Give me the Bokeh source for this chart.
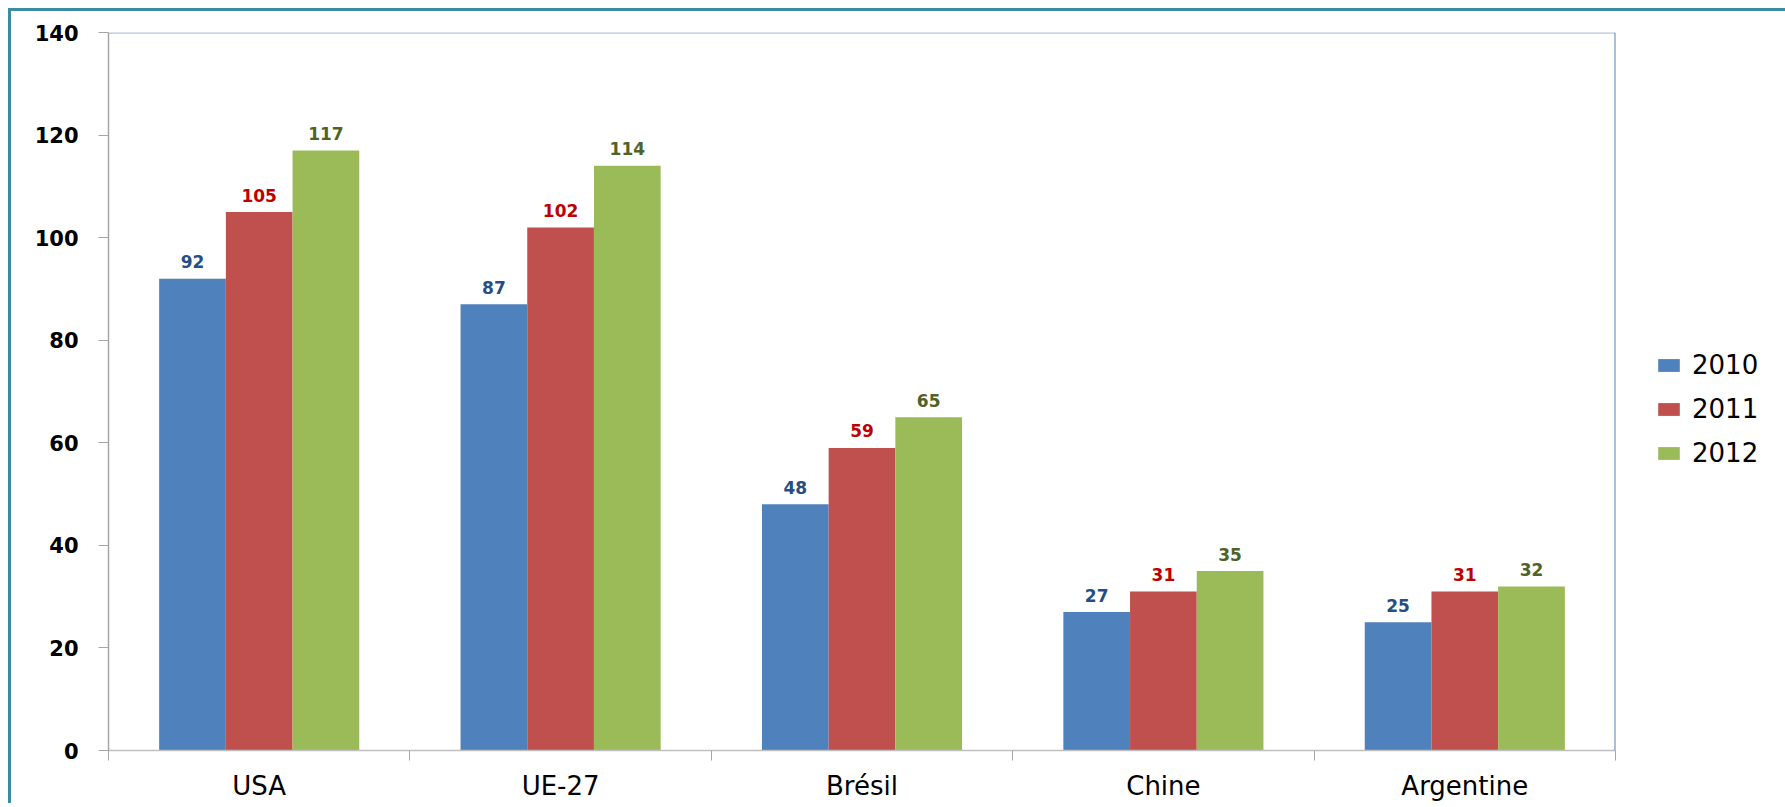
from bokeh.plotting import figure
from bokeh.models import Range1d, FixedTicker, Span, ColumnDataSource, Legend, LegendItem
from bokeh.core.properties import value
from bokeh.embed import file_html
from bokeh.resources import INLINE

categories = ["USA", "UE-27", "Brésil", "Chine", "Argentine"]
years = ["2010", "2011", "2012"]
v2010 = [92, 87, 48, 27, 25]
v2011 = [105, 102, 59, 31, 31]
v2012 = [117, 114, 65, 35, 32]
y_ticks = [0, 20, 40, 60, 80, 100, 120, 140]

series = [v2010, v2011, v2012]
bar_colors = ["#4f81bd", "#c0504d", "#9bbb59"]
label_colors = ["#254e85", "#c00000", "#4f6228"]
bar_w = 0.2213
offsets = [-bar_w, 0.0, bar_w]

p = figure(frame_width=1507, frame_height=718,
           x_range=Range1d(0, len(categories)), y_range=Range1d(0, 140),
           output_backend="svg", toolbar_location=None,
           min_border_left=97, min_border_right=150, min_border_top=21, min_border_bottom=40,
           background_fill_color="white", border_fill_color="white")
p.styles = {"border-top": "3px solid #3a8ba3", "border-left": "3px solid #3a8ba3",
            "margin-left": "8px", "margin-top": "8px"}
p.outline_line_color = None
p.xgrid.visible = False
p.ygrid.visible = False

items = []
for k in range(3):
    xs = [i + 0.5 + offsets[k] for i in range(len(categories))]
    src = ColumnDataSource(dict(x=xs, top=series[k], txt=[str(v) for v in series[k]]))
    r = p.vbar(x="x", top="top", width=bar_w, bottom=0, source=src,
               fill_color=bar_colors[k], line_color=None)
    items.append(LegendItem(label=years[k], renderers=[r]))
    p.text(x="x", y="top", text="txt", source=src, text_align="center",
           text_baseline="middle", y_offset=-17, text_font=value("DejaVu Sans"),
           text_font_style="bold", text_font_size="17px", text_color=label_colors[k])

# y axis
p.yaxis.ticker = FixedTicker(ticks=y_ticks, minor_ticks=[])
p.yaxis.major_label_text_font = "DejaVu Sans"
p.yaxis.major_label_text_font_style = "bold"
p.yaxis.major_label_text_font_size = "21px"
p.yaxis.major_label_text_color = "black"
p.yaxis.major_label_standoff = 20
p.yaxis.major_tick_out = 10
p.yaxis.major_tick_in = 0
p.yaxis.major_tick_line_color = "#a6a6a6"
p.yaxis.axis_line_color = "#a6a6a6"
p.yaxis.axis_line_width = 1.5

# x axis
centers = [i + 0.5 for i in range(len(categories))]
p.xaxis.ticker = FixedTicker(ticks=centers, minor_ticks=list(range(len(categories) + 1)))
p.xaxis.major_label_overrides = {c: n for c, n in zip(centers, categories)}
p.xaxis.major_tick_line_color = None
p.xaxis.major_tick_out = 0
p.xaxis.major_tick_in = 0
p.xaxis.minor_tick_out = 10
p.xaxis.minor_tick_in = 0
p.xaxis.minor_tick_line_color = "#a6a6a6"
p.xaxis.axis_line_color = "#bfbfbf"
p.xaxis.axis_line_width = 1.5
p.xaxis.major_label_standoff = 10
p.xaxis.major_label_text_font = "DejaVu Sans"
p.xaxis.major_label_text_font_size = "26px"
p.xaxis.major_label_text_color = "black"

p.add_layout(Span(location=140, dimension="width", line_color="#b4c7e0", line_width=2.5))
p.add_layout(Span(location=len(categories), dimension="height", line_color="#4f81bd", line_width=2))

lg = Legend(items=items, location=(40, 282), padding=0, margin=0,
            border_line_color=None, background_fill_alpha=0,
            glyph_width=27, glyph_height=16, label_height=30, spacing=14,
            label_standoff=10, label_text_font="DejaVu Sans",
            label_text_font_size="26px", label_text_color="black")
p.add_layout(lg, "right")

open("out.html", "w").write(file_html(p, INLINE))
